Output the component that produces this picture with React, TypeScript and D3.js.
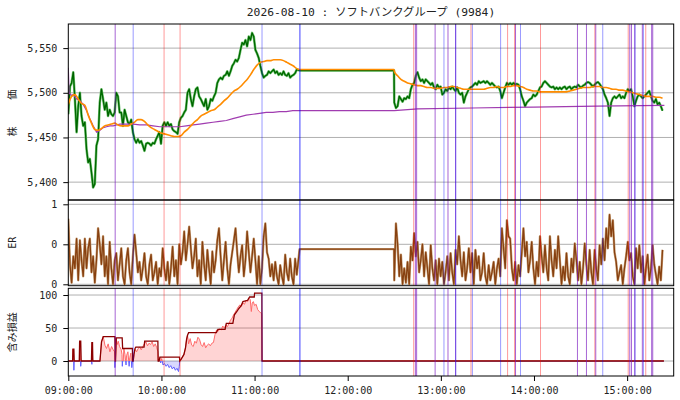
import { useEffect, useRef } from "react";
import * as d3 from "d3";

const WIDTH = 680;
const HEIGHT = 400;
const FONT = "'DejaVu Sans Mono', 'Noto Sans CJK JP', monospace";

const TITLE = "2026-08-10 : ソフトバンクグループ (9984)";
const AM_OPEN = "09:00:00";
const PM_OPEN = "12:30:00";
const SAMPLE_SEC = 64; // price and ER readings
const MA_SAMPLE_SEC = 128; // moving average readings

// price, one reading every SAMPLE_SEC from AM_OPEN / PM_OPEN
const priceAM = [
  5476, 5507, 5511, 5523, 5493, 5456, 5485, 5500, 5474, 5463,
  5467, 5437, 5422, 5426, 5411, 5394, 5398, 5441, 5448, 5489,
  5504, 5493, 5481, 5489, 5474, 5481, 5476, 5474, 5478, 5500,
  5496, 5478, 5478, 5463, 5481, 5474, 5467, 5465, 5470, 5456,
  5448, 5444, 5448, 5444, 5446, 5441, 5435, 5443, 5444, 5443,
  5441, 5444, 5443, 5448, 5452, 5456, 5443, 5463, 5467, 5463,
  5467, 5463, 5465, 5459, 5457, 5456, 5454, 5467, 5472, 5474,
  5478, 5481, 5500, 5504, 5493, 5485, 5496, 5504, 5506, 5496,
  5493, 5489, 5485, 5493, 5481, 5485, 5493, 5491, 5496, 5500,
  5511, 5515, 5517, 5515, 5519, 5520, 5524, 5519, 5524, 5530,
  5533, 5537, 5535, 5539, 5548, 5556, 5554, 5559, 5552, 5563,
  5559, 5567, 5563, 5548, 5544, 5539, 5530, 5522, 5517, 5519,
  5520, 5524, 5522, 5524, 5526, 5522, 5524, 5520, 5522, 5520,
  5524, 5520, 5519, 5522, 5517, 5519, 5520, 5522, 5526,
];
const pricePM = [
  5489, 5483, 5485, 5496, 5493, 5490, 5494, 5493, 5496, 5494,
  5504, 5509, 5511, 5519, 5523, 5517, 5513, 5515, 5511, 5515,
  5513, 5511, 5509, 5511, 5506, 5504, 5509, 5506, 5507, 5498,
  5500, 5504, 5502, 5506, 5504, 5507, 5504, 5502, 5506, 5500,
  5498, 5500, 5489, 5496, 5500, 5504, 5506, 5507, 5509, 5511,
  5509, 5513, 5511, 5512, 5513, 5511, 5513, 5511, 5509, 5511,
  5509, 5507, 5506, 5507, 5502, 5494, 5500, 5506, 5511, 5509,
  5511, 5509, 5511, 5509, 5510, 5509, 5504, 5496, 5491, 5485,
  5489, 5491, 5493, 5494, 5498, 5496, 5498, 5502, 5506, 5507,
  5511, 5513, 5511, 5509, 5507, 5506, 5507, 5504, 5506, 5504,
  5506, 5504, 5506, 5507, 5504, 5506, 5507, 5504, 5506, 5507,
  5506, 5509, 5507, 5506, 5508, 5509, 5511, 5512, 5511, 5509,
  5507, 5509, 5511, 5512, 5510, 5507, 5504, 5498, 5494, 5489,
  5474, 5489, 5494, 5496, 5494, 5496, 5498, 5494, 5496, 5494,
  5500, 5504, 5502, 5504, 5496, 5485, 5491, 5496, 5498, 5496,
  5494, 5496, 5498, 5500, 5502, 5496, 5491, 5489, 5493, 5487,
  5489, 5485, 5480,
];

// moving average, one reading every MA_SAMPLE_SEC
const maAM = [
  5487, 5496, 5498, 5493, 5488, 5486, 5475, 5466, 5459, 5458,
  5460, 5463, 5464, 5465, 5466, 5464, 5463, 5463, 5463, 5465,
  5467, 5470, 5470, 5468, 5464, 5461, 5459, 5457, 5455, 5454,
  5453, 5452, 5451, 5451, 5452, 5456, 5459, 5463, 5467, 5470,
  5474, 5476, 5478, 5480, 5481, 5484, 5487, 5491, 5494, 5498,
  5502, 5504, 5507, 5511, 5515, 5520, 5526, 5531, 5534, 5535,
  5536, 5536, 5537, 5537, 5537, 5536, 5534, 5532, 5530, 5527,
];
const maPM = [
  5524, 5519, 5515, 5513, 5511, 5510, 5509, 5508, 5508, 5507,
  5506, 5506, 5505, 5505, 5505, 5506, 5506, 5507, 5507, 5506,
  5505, 5504, 5504, 5504, 5504, 5504, 5504, 5504, 5505, 5506,
  5506, 5507, 5506, 5506, 5507, 5507, 5508, 5508, 5507, 5506,
  5504, 5503, 5502, 5502, 5501, 5501, 5501, 5501, 5501, 5501,
  5501, 5501, 5501, 5502, 5503, 5504, 5505, 5506, 5506, 5506,
  5507, 5507, 5507, 5506, 5506, 5505, 5504, 5504, 5503, 5503,
  5502, 5501, 5500, 5499, 5498, 5497, 5496, 5496, 5496, 5495,
  5495, 5494,
];

// lunch break: values held from the morning close
const lunchTimes = ["11:29:00", "12:29:50"];
const lunchPrice = [5525, 5525];
const lunchMA = [5526, 5526];
const lunchER = [0.44, 0.44];

// VWAP as [minutes after 09:00, price]
const vwap: [number, number][] = [
  [0, 5528], [0.5, 5500], [2, 5497], [3.2, 5498], [5.4, 5493], [7.5, 5491],
  [9.6, 5487], [11.8, 5480], [13.9, 5471], [16, 5463], [18.2, 5456],
  [20.4, 5458], [22.5, 5461], [24.6, 5462], [26.8, 5463], [28.9, 5463],
  [31, 5464], [33.2, 5465], [37.5, 5465], [41.8, 5465], [46, 5464],
  [50.4, 5464], [54.6, 5463], [59, 5462], [63.2, 5462], [67.5, 5462],
  [71.8, 5462], [76, 5463], [80.4, 5464], [84.6, 5465], [89, 5466],
  [93.2, 5467], [97.5, 5468], [101.8, 5469], [106, 5471], [110.4, 5473],
  [114.6, 5475], [119, 5476], [123.2, 5477], [127.5, 5478], [131.8, 5478],
  [136, 5479], [140.4, 5479], [144.6, 5480], [148, 5480], [210, 5480],
  [225, 5482], [260, 5483], [300, 5484], [340, 5485], [384, 5486],
];

// efficiency ratio, one reading every SAMPLE_SEC
const erAM = [
  0.82, 0.25, 0.02, 0.35, 0.2, 0.57, 0.05, 0.55, 0.3, 0.1,
  0.57, 0.2, 0.45, 0.57, 0.15, 0.35, 0.02, 0.3, 0.7, 0.5,
  0.25, 0.6, 0.1, 0.35, 0.0, 0.53, 0.2, 0.0, 0.3, 0.39,
  0.05, 0.25, 0.45, 0.1, 0.0, 0.3, 0.45, 0.15, 0.0, 0.35,
  0.62, 0.4, 0.15, 0.28, 0.05, 0.2, 0.39, 0.1, 0.0, 0.25,
  0.37, 0.05, 0.15, 0.28, 0.0, 0.2, 0.1, 0.45, 0.2, 0.05,
  0.28, 0.0, 0.2, 0.47, 0.1, 0.3, 0.0, 0.5, 0.25, 0.4,
  0.66, 0.3, 0.5, 0.72, 0.45, 0.2, 0.35, 0.57, 0.1, 0.3,
  0.0, 0.53, 0.25, 0.05, 0.43, 0.2, 0.0, 0.41, 0.15, 0.3,
  0.55, 0.7, 0.35, 0.05, 0.3, 0.53, 0.2, 0.0, 0.25, 0.4,
  0.55, 0.7, 0.4, 0.15, 0.35, 0.49, 0.1, 0.3, 0.66, 0.4,
  0.15, 0.35, 0.57, 0.3, 0.0, 0.35, 0.0, 0.2, 0.6, 0.76,
  0.4, 0.32, 0.1, 0.25, 0.05, 0.28, 0.1, 0.0, 0.24, 0.1,
  0.0, 0.37, 0.15, 0.05, 0.32, 0.1, 0.0, 0.32, 0.12,
];
const erPM = [
  0.05, 0.76, 0.5, 0.1, 0.37, 0.0, 0.2, 0.02, 0.28, 0.0,
  0.47, 0.3, 0.64, 0.35, 0.53, 0.15, 0.3, 0.5, 0.1, 0.4,
  0.2, 0.0, 0.49, 0.2, 0.05, 0.3, 0.0, 0.32, 0.1, 0.28,
  0.0, 0.15, 0.35, 0.05, 0.39, 0.15, 0.0, 0.43, 0.25, 0.6,
  0.3, 0.1, 0.4, 0.05, 0.2, 0.45, 0.15, 0.39, 0.0, 0.43,
  0.2, 0.35, 0.05, 0.15, 0.39, 0.1, 0.0, 0.24, 0.05, 0.15,
  0.28, 0.0, 0.2, 0.32, 0.1, 0.7, 0.45, 0.2, 0.8, 0.6,
  0.57, 0.2, 0.05, 0.28, 0.0, 0.24, 0.1, 0.4, 0.7, 0.35,
  0.53, 0.15, 0.3, 0.53, 0.2, 0.0, 0.28, 0.1, 0.6, 0.35,
  0.15, 0.49, 0.2, 0.05, 0.6, 0.3, 0.1, 0.43, 0.2, 0.6,
  0.3, 0.0, 0.22, 0.05, 0.39, 0.1, 0.0, 0.32, 0.15, 0.51,
  0.3, 0.05, 0.28, 0.0, 0.2, 0.51, 0.25, 0.05, 0.43, 0.15,
  0.0, 0.43, 0.2, 0.05, 0.49, 0.25, 0.57, 0.3, 0.7, 0.45,
  0.87, 0.6, 0.8, 0.4, 0.28, 0.05, 0.15, 0.24, 0.0, 0.2,
  0.35, 0.53, 0.3, 0.39, 0.1, 0.0, 0.45, 0.2, 0.49, 0.15,
  0.35, 0.0, 0.2, 0.37, 0.05, 0.2, 0.49, 0.25, 0.12, 0.0,
  0.22, 0.05, 0.43,
];

// unrealized P&L as [minutes after 09:00, value]
const pnl: [number, number][] = [
  [0, 0], [2.8, 0], [3.0, 18], [3.4, 10], [3.6, -14], [3.8, 0], [7.1, 0],
  [7.3, 30], [7.7, 15], [8.0, -8], [8.3, 0], [14.9, 0], [15.2, -5],
  [15.4, 28], [15.7, 0], [20.4, 0], [21.4, 29], [22.5, 37], [23.6, 24],
  [24.6, 19], [25.7, 26], [26.8, 14], [27.9, 22], [28.9, 17], [29.8, 14],
  [30.0, -10], [30.2, 0], [30.4, 0], [30.9, 33], [31.5, 25], [32.2, 30],
  [33, 22], [34, 18], [34.6, 10], [34.8, -8], [35, 0], [35.4, 0], [35.8, 19],
  [36.5, 10], [37.2, -6], [37.5, 8], [38.4, 14], [39.2, -8], [39.6, 5],
  [40.3, 12], [40.9, -10], [41.3, 0], [41.8, 0], [42.3, 10], [43, 18],
  [44, 14], [45, 19], [46, 21], [47, 17], [48, 22], [49, 26], [50, 29],
  [51, 23], [52, 27], [53, 25], [54, 29], [55, 22], [56, 26], [57, 20],
  [57.7, 14], [57.9, 0], [58.5, 0], [59, 5], [59.5, -3], [60.2, 4],
  [61, -6], [62, -4], [63, -8], [64, -5], [65, -10], [66, -7], [67, -12],
  [68, -9], [69, -14], [70, -11], [71, -16], [71.5, -8], [71.8, 0],
  [72.5, 2], [73.5, 6], [74.5, 10], [75.5, 20], [76.2, 33], [76.8, 39],
  [77.5, 26], [78.5, 34], [79.5, 24], [80.5, 22], [81.5, 30], [82.5, 27],
  [83.5, 36], [84.5, 33], [85.5, 25], [86.5, 22], [87.5, 28], [88.5, 20],
  [89.5, 24], [90.5, 26], [91.5, 23], [92.5, 27], [93.5, 28], [94.5, 40],
  [95.5, 47], [96.5, 45], [97.5, 49], [98.5, 47], [99.5, 53], [100.5, 50],
  [101.5, 55], [102.5, 52], [103.5, 57], [104.5, 62], [105.5, 65],
  [106.5, 70], [107.5, 74], [108.5, 78], [109.5, 82], [110.5, 85],
  [111.5, 83], [112.5, 88], [113.5, 86], [114.5, 92], [115.5, 90],
  [116.5, 95], [117.2, 93], [117.9, 75], [118.5, 88], [119.2, 90],
  [120, 84], [121, 86], [122, 78], [123, 75], [124, 73], [124.6, 72],
  [124.8, 0], [383.7, 0],
];

// best P&L reached in the open position, [minutes after 09:00, value]
const pnlMax: [number, number][] = [
  [0, 0], [2.8, 0], [3.0, 18], [3.6, 18], [3.8, 0], [7.1, 0], [7.3, 30],
  [8.0, 30], [8.3, 0], [14.9, 0], [15.2, 28], [15.6, 28], [15.8, 0],
  [20.4, 0], [21.4, 29], [22.5, 37], [30.0, 37], [30.2, 0], [30.4, 0],
  [30.9, 35], [34.7, 35], [35.0, 19], [41.3, 19], [41.4, 0], [41.8, 0],
  [42.3, 10], [43, 19], [43.5, 21], [48.8, 21], [49.2, 30], [57.7, 30],
  [57.9, 0], [58.5, 0], [59, 6], [71.6, 6], [71.8, 0], [72.5, 2], [73.5, 6],
  [74.5, 10], [75.5, 20], [76.2, 33], [76.8, 39], [77.5, 43], [95.4, 43],
  [96.4, 48], [101, 48], [101.8, 57], [106, 57], [107, 70], [108.5, 75],
  [110, 80], [111.4, 84], [112.5, 90], [115.5, 92], [116.8, 97],
  [119.8, 97], [120, 103], [124.7, 103], [124.8, 0], [383.7, 0],
];

// trade signals, minutes after 09:00
const signalMinutes = [
  30.2, 41.8, 61.7, 72.0, 124.8, 149.0, 149.4, 222.5, 223.6, 224.4, 236.3,
  242.0, 244.6, 249.5, 249.6, 259.4, 260.3, 278.5, 283.0, 287.5, 288.1,
  291.3, 304.2, 328.0, 333.8, 339.2, 339.8, 344.3, 360.7, 361.7, 362.8,
  364.9, 365.1, 369.8, 370.5, 372.0, 375.8, 376.5,
];
const signalKinds = [
  "exit", "sell", "buy", "buy", "sell", "sell", "sell", "buy", "exit", "exit",
  "exit", "sell", "exit", "exit", "sell", "buy", "sell", "sell", "buy", "buy",
  "exit", "sell", "buy", "exit", "exit", "buy", "exit", "sell", "buy", "exit",
  "exit", "exit", "sell", "exit", "sell", "buy", "exit", "exit",
];
const signalColors: Record<string, string> = {
  buy: "rgba(255,0,0,0.4)",
  sell: "rgba(0,0,255,0.4)",
  exit: "rgba(120,20,190,0.65)",
};

const priceTicks = [5400, 5450, 5500, 5550];
const erTicks = [0, 0.5, 1];
const erTickLabels = ["0", "0", "1"];
const pnlTicks = [0, 50, 100];
const hourTicks = [
  "09:00:00", "10:00:00", "11:00:00", "12:00:00", "13:00:00", "14:00:00", "15:00:00",
];

type Pt = { t: Date; v: number };

const at = (hms: string, offsetSec = 0) => {
  const [h, m, s] = hms.split(":").map(Number);
  return new Date(2026, 7, 10, h, m, s + offsetSec);
};
const atMin = (m: number) => new Date(+at(AM_OPEN) + m * 60000);
const sampled = (start: string, step: number, values: number[]): Pt[] =>
  values.map((v, i) => ({ t: at(start, i * step), v }));
const held = (values: number[]): Pt[] =>
  values.map((v, i) => ({ t: at(lunchTimes[i]), v }));
const byMinute = (rows: [number, number][]): Pt[] =>
  rows.map(([m, v]) => ({ t: atMin(m), v }));

const LEFT = 68.3;
const RIGHT = 673.7;
const PRICE_BOX = [24, 200];
const ER_BOX = [200, 285.7];
const PNL_BOX = [288.3, 376];

export default function App() {
  const ref = useRef<SVGSVGElement>(null);

  useEffect(() => {
    const svg = d3.select(ref.current);
    svg.selectAll("*").remove();

    const x = d3.scaleTime().domain([at(AM_OPEN), at("15:30:00")]).range([LEFT, RIGHT]);
    const yPrice = d3.scaleLinear().domain([5380, 5577]).range([PRICE_BOX[1], PRICE_BOX[0]]);
    const yER = d3.scaleLinear().domain([-0.0175, 1.0475]).range([ER_BOX[1], ER_BOX[0] + 0.5]);
    const yPnl = d3.scaleLinear().domain([-22.7, 110.2]).range([PNL_BOX[1], PNL_BOX[0]]);

    const price = [...sampled(AM_OPEN, SAMPLE_SEC, priceAM), ...held(lunchPrice), ...sampled(PM_OPEN, SAMPLE_SEC, pricePM)];
    const ma = [...sampled(AM_OPEN, MA_SAMPLE_SEC, maAM), ...held(lunchMA), ...sampled(PM_OPEN, MA_SAMPLE_SEC, maPM)];
    const er = [...sampled(AM_OPEN, SAMPLE_SEC, erAM), ...held(lunchER), ...sampled(PM_OPEN, SAMPLE_SEC, erPM)];
    const vw = byMinute(vwap);
    const pl = byMinute(pnl);
    const plMax = byMinute(pnlMax);

    const defs = svg.append("defs");
    const clipRect = (id: string, top: number, bottom: number) => {
      defs.append("clipPath").attr("id", id).append("rect")
        .attr("x", LEFT).attr("y", top).attr("width", RIGHT - LEFT).attr("height", bottom - top);
    };

    const panel = (id: string, box: number[], y: d3.ScaleLinear<number, number>, ticks: number[]) => {
      svg.append("g").selectAll("line").data(ticks).join("line")
        .attr("x1", LEFT).attr("x2", RIGHT)
        .attr("y1", (d) => y(d)).attr("y2", (d) => y(d))
        .attr("stroke", "#b0b0b0").attr("stroke-width", 1);
      clipRect(id, box[0], box[1]);
      return svg.append("g").attr("clip-path", `url(#${id})`);
    };

    const finish = (g: d3.Selection<SVGGElement, unknown, null, undefined>, box: number[],
      y: d3.ScaleLinear<number, number>, ticks: number[], fmt: (d: number, i: number) => string) => {
      g.append("g").selectAll("line").data(signalMinutes).join("line")
        .attr("x1", (d) => x(atMin(d))).attr("x2", (d) => x(atMin(d)))
        .attr("y1", box[0]).attr("y2", box[1])
        .attr("stroke", (_, i) => signalColors[signalKinds[i]]).attr("stroke-width", 1);
      svg.append("rect").attr("x", LEFT).attr("y", box[0])
        .attr("width", RIGHT - LEFT).attr("height", box[1] - box[0])
        .attr("fill", "none").attr("stroke", "#000").attr("stroke-width", 1);
      svg.append("g").attr("transform", `translate(${LEFT},0)`)
        .call(d3.axisLeft(y).tickValues(ticks).tickSize(5).tickPadding(6)
          .tickFormat((d, i) => fmt(d as number, i)))
        .call((a) => a.select(".domain").remove())
        .attr("font-family", FONT).attr("font-size", 10)
        .call((a) => a.selectAll("text").attr("fill", "#222"));
    };

    const lineOf = (y: d3.ScaleLinear<number, number>) =>
      d3.line<Pt>().x((d) => x(d.t)).y((d) => y(d.v));

    // price panel
    const gp = panel("clip-price", PRICE_BOX, yPrice, priceTicks);
    const lp = lineOf(yPrice);
    gp.append("path").datum(price).attr("d", lp).attr("fill", "none")
      .attr("stroke", "#7cc47c").attr("stroke-width", 2.6).attr("stroke-linejoin", "round");
    gp.append("path").datum(price).attr("d", lp).attr("fill", "none")
      .attr("stroke", "#008000").attr("stroke-width", 1.4).attr("stroke-linejoin", "round");
    gp.append("path").datum(price).attr("d", lp).attr("fill", "none")
      .attr("stroke", "#000").attr("stroke-opacity", 0.45).attr("stroke-width", 0.5);
    gp.append("path").datum(vw).attr("d", lp).attr("fill", "none")
      .attr("stroke", "#a03cb0").attr("stroke-width", 1.2);
    gp.append("path").datum(ma).attr("d", lp.curve(d3.curveMonotoneX)).attr("fill", "none")
      .attr("stroke", "#ff8c00").attr("stroke-width", 1.6);
    finish(gp, PRICE_BOX, yPrice, priceTicks, d3.format(","));

    // ER panel
    const ge = panel("clip-er", ER_BOX, yER, erTicks);
    const le = lineOf(yER);
    ge.append("path").datum(er).attr("d", le).attr("fill", "none")
      .attr("stroke", "#c9a27a").attr("stroke-width", 2.4).attr("stroke-linejoin", "round");
    ge.append("path").datum(er).attr("d", le).attr("fill", "none")
      .attr("stroke", "#874010").attr("stroke-width", 1.3).attr("stroke-linejoin", "round");
    finish(ge, ER_BOX, yER, erTicks, (_, i) => erTickLabels[i]);

    // P&L panel
    const gl = panel("clip-pnl", PNL_BOX, yPnl, pnlTicks);
    clipRect("clip-pos", PNL_BOX[0], yPnl(0));
    clipRect("clip-neg", yPnl(0), PNL_BOX[1]);
    const area = d3.area<Pt>().x((d) => x(d.t)).y0(yPnl(0)).y1((d) => yPnl(d.v));
    const ll = lineOf(yPnl);
    const pos = gl.append("g").attr("clip-path", "url(#clip-pos)");
    pos.append("path").datum(pl).attr("d", area).attr("fill", "rgba(255,0,0,0.17)");
    pos.append("path").datum(pl).attr("d", ll).attr("fill", "none")
      .attr("stroke", "#ff6a6a").attr("stroke-width", 1);
    const neg = gl.append("g").attr("clip-path", "url(#clip-neg)");
    neg.append("path").datum(pl).attr("d", area).attr("fill", "rgba(0,0,255,0.15)");
    neg.append("path").datum(pl).attr("d", ll).attr("fill", "none")
      .attr("stroke", "#6060ff").attr("stroke-width", 1);
    gl.append("path").datum(plMax).attr("d", ll).attr("fill", "none")
      .attr("stroke", "#8b0000").attr("stroke-width", 1.3);
    finish(gl, PNL_BOX, yPnl, pnlTicks, d3.format(","));

    // time axis
    svg.append("g").attr("transform", `translate(0,${PNL_BOX[1]})`)
      .call(d3.axisBottom(x).tickValues(hourTicks.map((h) => at(h))).tickSize(5).tickPadding(6)
        .tickFormat((d) => d3.timeFormat("%H:%M:%S")(d as Date)))
      .call((a) => a.select(".domain").remove())
      .attr("font-family", FONT).attr("font-size", 10)
      .call((a) => a.selectAll("text").attr("fill", "#222"));

    // axis titles
    const ylabel = (text: string, box: number[], spacing = 0) =>
      svg.append("text").text(text)
        .attr("transform", `translate(12,${(box[0] + box[1]) / 2}) rotate(-90)`)
        .attr("text-anchor", "middle").attr("dominant-baseline", "central")
        .attr("font-family", FONT).attr("font-size", 10).attr("fill", "#222")
        .attr("letter-spacing", spacing);
    ylabel("株　　価", PRICE_BOX, 2.3);
    ylabel("ER", ER_BOX);
    ylabel("含み損益", PNL_BOX);

    svg.append("text").text(TITLE)
      .attr("x", (LEFT + RIGHT) / 2).attr("y", 15.7)
      .attr("text-anchor", "middle")
      .attr("font-family", FONT).attr("font-size", 11.3).attr("fill", "#222");
  }, []);

  return (
    <div style={{ position: "absolute", left: 0, top: 0 }}>
      <svg ref={ref} width={WIDTH} height={HEIGHT} style={{ display: "block", background: "#fff" }} />
    </div>
  );
}
